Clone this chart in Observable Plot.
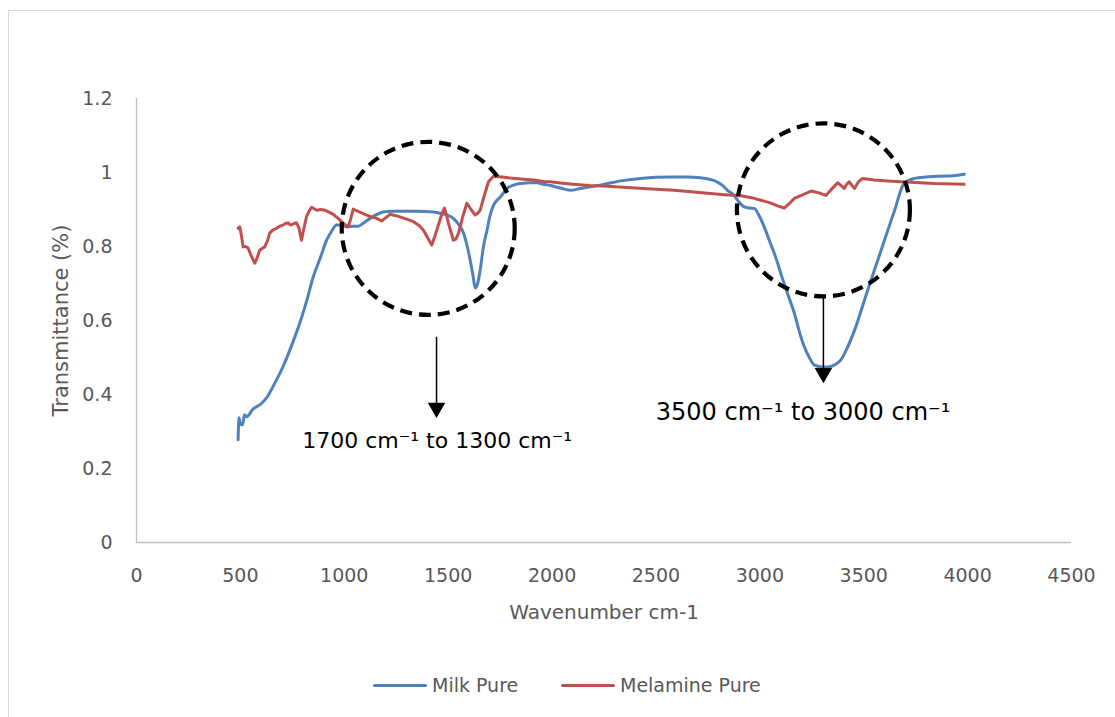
<!DOCTYPE html>
<html>
<head>
<meta charset="utf-8">
<script src="https://cdn.jsdelivr.net/npm/d3@7"></script>
<script src="https://cdn.jsdelivr.net/npm/@observablehq/plot@0.6"></script>
<style>
  html, body { margin: 0; padding: 0; background: #fff; }
  #wrap { position: relative; width: 1115px; height: 717px; overflow: hidden; font-family: "DejaVu Sans", sans-serif; }
  #frame { position: absolute; left: 8px; top: 10px; width: 1200px; height: 800px; border: 1px solid #d9d9d9; }
  #chart { position: absolute; left: 0; top: 0; }
  #legend { position: absolute; top: 672px; left: 0; width: 1115px; height: 26px; font-size: 19px; color: #595959; }
  .lg { position: absolute; top: 0; display: flex; align-items: center; height: 26px; }
  .sw { width: 54px; height: 3px; border-radius: 2px; margin-right: 5px; }
</style>
</head>
<body>
<div id="wrap">
  <div id="frame"></div>
  <div id="chart"></div>
  <div id="legend">
    <div class="lg" style="left:373px"><div class="sw" style="background:#4F81BD"></div><span>Milk Pure</span></div>
    <div class="lg" style="left:561px"><div class="sw" style="background:#C0504D"></div><span>Melamine Pure</span></div>
  </div>
</div>
<script>
// ---- data ----
const seriesNames = ["Milk Pure", "Melamine Pure"];
const seriesColors = ["#4F81BD", "#C0504D"];

const milkWave = [489,493,500,510,520,530,560,600,625,665,705,745,786,820,850,885,915,940,963,990,1011,1040,1067,1091,1124,1155,1188,1230,1268,1350,1429,1461,1495,1525,1550,1574,1592,1606,1620,1630,1642,1654,1670,1687,1700,1718,1735,1751,1783,1815,1847,1900,1928,1960,1992,2040,2088,2130,2169,2220,2265,2340,2426,2500,2587,2650,2715,2770,2796,2820,2844,2876,2900,2925,2950,2973,2995,3021,3050,3080,3105,3135,3166,3190,3214,3240,3261,3290,3327,3360,3391,3420,3456,3495,3535,3575,3616,3650,3688,3715,3744,3800,3873,3930,3984];
const milkT = [0.278,0.337,0.32,0.318,0.345,0.34,0.36,0.375,0.39,0.43,0.475,0.53,0.593,0.655,0.717,0.77,0.817,0.842,0.858,0.858,0.853,0.855,0.855,0.863,0.876,0.886,0.893,0.895,0.895,0.895,0.893,0.89,0.885,0.876,0.86,0.836,0.8,0.763,0.72,0.688,0.7,0.736,0.8,0.844,0.88,0.911,0.925,0.934,0.957,0.966,0.97,0.972,0.972,0.968,0.965,0.958,0.952,0.956,0.96,0.965,0.97,0.978,0.984,0.987,0.988,0.988,0.986,0.98,0.974,0.965,0.952,0.938,0.92,0.907,0.904,0.903,0.885,0.853,0.81,0.765,0.72,0.67,0.62,0.57,0.529,0.498,0.48,0.475,0.474,0.48,0.494,0.525,0.574,0.64,0.709,0.775,0.844,0.9,0.965,0.978,0.984,0.988,0.99,0.991,0.995];

const melWave = [489,497,505,513,525,537,552,569,581,593,605,617,630,641,657,674,690,705,717,729,737,746,758,770,782,794,806,818,830,843,855,867,887,907,927,947,970,995,1019,1031,1043,1075,1108,1130,1156,1180,1200,1220,1244,1268,1300,1333,1360,1381,1400,1421,1437,1453,1468,1482,1492,1501,1513,1525,1537,1550,1570,1590,1610,1630,1642,1654,1675,1694,1718,1760,1800,1863,1911,1960,1992,2050,2103,2180,2265,2400,2500,2587,2670,2748,2830,2909,2960,3005,3050,3085,3117,3140,3166,3200,3248,3285,3318,3345,3375,3390,3406,3418,3430,3443,3456,3475,3495,3550,3616,3700,3841,3984];
const melT = [0.849,0.853,0.83,0.799,0.8,0.796,0.775,0.755,0.77,0.79,0.795,0.799,0.815,0.836,0.845,0.849,0.855,0.858,0.862,0.864,0.86,0.858,0.862,0.864,0.85,0.817,0.85,0.88,0.895,0.906,0.902,0.898,0.9,0.898,0.893,0.887,0.876,0.863,0.853,0.875,0.901,0.893,0.885,0.88,0.876,0.869,0.878,0.887,0.884,0.88,0.874,0.867,0.857,0.844,0.825,0.804,0.83,0.858,0.885,0.904,0.885,0.863,0.84,0.817,0.82,0.836,0.88,0.917,0.9,0.885,0.89,0.898,0.94,0.975,0.99,0.988,0.985,0.982,0.98,0.976,0.975,0.971,0.968,0.965,0.963,0.958,0.955,0.952,0.948,0.944,0.94,0.937,0.932,0.925,0.918,0.91,0.904,0.915,0.93,0.938,0.95,0.945,0.938,0.955,0.972,0.965,0.957,0.968,0.975,0.965,0.957,0.975,0.984,0.98,0.977,0.974,0.97,0.968];

const xTicks = [0,500,1000,1500,2000,2500,3000,3500,4000,4500];
const yTicks = [0,0.2,0.4,0.6,0.8,1,1.2];
const xTitle = "Wavenumber cm-1";
const yTitle = "Transmittance (%)";

// annotations (data coordinates)
const circleWave = [1404, 3306];
const circleT = [0.849, 0.899];
const arrowWave = [1444, 3306];
const arrowTop = [0.556, 0.663];
const arrowEnd = [0.375, 0.461];
const arrowHead = [0.364, 0.458];
const noteWave = [1447, 3208];
const noteT = [0.275, 0.353];
const noteText = ["1700 cm\u207B\u00B9 to 1300 cm\u207B\u00B9", "3500 cm\u207B\u00B9 to 3000 cm\u207B\u00B9"];

// ---- tables built from the arrays ----
const milk = milkWave.map((w, i) => ({w, t: milkT[i], s: seriesNames[0]}));
const mel = melWave.map((w, i) => ({w, t: melT[i], s: seriesNames[1]}));
const circles = circleWave.map((w, i) => ({w, t: circleT[i]}));
const arrows = arrowWave.map((w, i) => ({w, t1: arrowTop[i], t2: arrowEnd[i], th: arrowHead[i]}));

const chart = Plot.plot({
  width: 1115,
  height: 650,
  marginLeft: 136,
  marginRight: 44,
  marginTop: 98,
  marginBottom: 108,
  style: {fontFamily: "DejaVu Sans", fontSize: "19px", color: "#595959", background: "transparent", overflow: "visible"},
  x: {domain: [0, 4500], ticks: xTicks, tickSize: 0, tickPadding: 26, tickFormat: d => String(d), label: null},
  y: {domain: [0, 1.2], ticks: yTicks, tickSize: 0, tickPadding: 24, tickFormat: d => String(+d.toFixed(1)), label: null},
  marks: [
    Plot.ruleY([0], {stroke: "#bfbfbf", strokeWidth: 1.3}),
    Plot.ruleX([0], {stroke: "#bfbfbf", strokeWidth: 1.3}),
    Plot.line(milk, {x: "w", y: "t", stroke: seriesColors[0], strokeWidth: 3, strokeLinejoin: "round", strokeLinecap: "round", curve: "monotone-x"}),
    Plot.line(mel, {x: "w", y: "t", stroke: seriesColors[1], strokeWidth: 3, strokeLinejoin: "round", strokeLinecap: "round"}),
    Plot.dot(circles, {x: "w", y: "t", r: 86.5, fill: "none", stroke: "black", strokeWidth: 4.2, strokeDasharray: "12,7"}),
    Plot.link(arrows, {x1: "w", x2: "w", y1: "t1", y2: "t2", stroke: "black", strokeWidth: 1.5}),
    Plot.dot(arrows, {x: "w", y: "th", symbol: "triangle", rotate: 180, r: 6.5, fill: "black", stroke: "none"}),
    Plot.text([noteText[0]], {x: [noteWave[0]], y: [noteT[0]], text: d => d, fontSize: 22, fill: "black"}),
    Plot.text([noteText[1]], {x: [noteWave[1]], y: [noteT[1]], text: d => d, fontSize: 24, fill: "black"}),
    Plot.text([yTitle], {frameAnchor: "left", textAnchor: "middle", rotate: -90, dx: -75, fontSize: 21, fill: "#595959"}),
    Plot.text([xTitle], {frameAnchor: "bottom", textAnchor: "middle", dy: 76, fontSize: 20, fill: "#595959"})
  ]
});
document.getElementById("chart").appendChild(chart);
</script>
</body>
</html>
